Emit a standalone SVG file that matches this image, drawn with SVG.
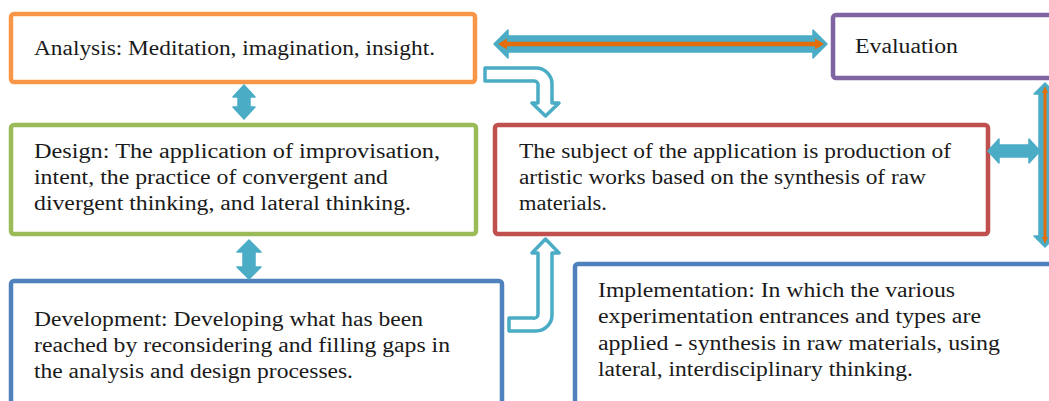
<svg xmlns="http://www.w3.org/2000/svg" width="1049" height="401" viewBox="0 0 1049 401">
<style>
.box{fill:#fff;stroke-width:4.5}
.t{font-family:"Liberation Serif","DejaVu Serif",serif;font-size:20px;fill:#1a1a1a}
.ar{fill:#4BACC6;stroke:#4BACC6;stroke-width:1.5;stroke-linejoin:round}
.hol{fill:#fff;stroke:#4BACC6;stroke-width:3.5;stroke-linejoin:round}
.or{fill:#E46C0A}
</style>
<rect width="1049" height="401" fill="#fff"/>
<g id="analysis">
<rect class="box" x="11" y="14" width="464" height="68" rx="3" stroke="#F79646"/>
<text class="t" x="34" y="55" textLength="401" lengthAdjust="spacingAndGlyphs">Analysis: Meditation, imagination, insight.</text>
</g>
<g id="evaluation">
<rect class="box" x="833" y="15" width="240" height="63" rx="3" stroke="#8064A2"/>
<text class="t" x="855" y="53" textLength="103" lengthAdjust="spacingAndGlyphs">Evaluation</text>
</g>
<g id="design">
<rect class="box" x="11" y="125" width="465" height="109" rx="3" stroke="#9BBB59"/>
<text class="t" x="34" y="158" textLength="406" lengthAdjust="spacingAndGlyphs">Design: The application of improvisation,</text>
<text class="t" x="34" y="184" textLength="354" lengthAdjust="spacingAndGlyphs">intent, the practice of convergent and</text>
<text class="t" x="34" y="210" textLength="377" lengthAdjust="spacingAndGlyphs">divergent thinking, and lateral thinking.</text>
</g>
<g id="subject">
<rect class="box" x="495" y="125" width="493" height="109" rx="3" stroke="#C0504D"/>
<text class="t" x="519" y="158" textLength="432" lengthAdjust="spacingAndGlyphs">The subject of the application is production of</text>
<text class="t" x="519" y="184" textLength="407" lengthAdjust="spacingAndGlyphs">artistic works based on the synthesis of raw</text>
<text class="t" x="519" y="210" textLength="88" lengthAdjust="spacingAndGlyphs">materials.</text>
</g>
<g id="development">
<rect class="box" x="11" y="281" width="491" height="150" rx="3" stroke="#4F81BD"/>
<text class="t" x="34" y="326" textLength="389" lengthAdjust="spacingAndGlyphs">Development: Developing what has been</text>
<text class="t" x="34" y="352" textLength="416" lengthAdjust="spacingAndGlyphs">reached by reconsidering and filling gaps in</text>
<text class="t" x="34" y="378" textLength="319" lengthAdjust="spacingAndGlyphs">the analysis and design processes.</text>
</g>
<g id="implementation">
<rect class="box" x="575" y="264" width="500" height="170" rx="3" stroke="#4F81BD"/>
<text class="t" x="598" y="297" textLength="357" lengthAdjust="spacingAndGlyphs">Implementation: In which the various</text>
<text class="t" x="598" y="323" textLength="383" lengthAdjust="spacingAndGlyphs">experimentation entrances and types are</text>
<text class="t" x="598" y="350" textLength="402" lengthAdjust="spacingAndGlyphs">applied - synthesis in raw materials, using</text>
<text class="t" x="598" y="376" textLength="315" lengthAdjust="spacingAndGlyphs">lateral, interdisciplinary thinking.</text>
</g>
<g id="connectors">
<path class="ar" d="M494,44 L508,30 L508,36 L813,36 L813,30 L827,44 L813,58 L813,52 L508,52 L508,58 Z"/>
<line x1="503" y1="44" x2="819" y2="44" stroke="#E46C0A" stroke-width="4.5"/>
<path class="or" d="M498,44 L507,38.5 L507,49.5 Z M824,44 L815,38.5 L815,49.5 Z"/>
<path class="ar" d="M1045,83 L1034,94 L1039,94 L1039,236 L1034,236 L1045,247 L1056,236 L1051,236 L1051,94 L1056,94 Z"/>
<line x1="1045" y1="90" x2="1045" y2="240" stroke="#E46C0A" stroke-width="3"/>
<path class="or" d="M1045,86 L1042,93 L1048,93 Z M1045,244 L1042,237 L1048,237 Z"/>
<path class="ar" d="M988,151 L999,139 L999,145 L1029,145 L1029,139 L1040,151 L1029,163 L1029,157 L999,157 L999,163 Z"/>
<path class="ar" d="M244,85 L255,97 L250,97 L250,107 L255,107 L244,119 L233,107 L238,107 L238,97 L233,97 Z"/>
<path class="ar" d="M249,240 L261,252 L255,252 L255,267 L261,267 L249,279 L237,267 L243,267 L243,252 L237,252 Z"/>
<path class="hol" d="M485,68 H536 A16,16 0 0 1 552,84 V103 H559 L545.5,116 L532,103 H538 V86 A4,4 0 0 0 534,81 H485 Z"/>
<path class="hol" d="M509,318 H533 A4,4 0 0 0 538,314 V253 H532 L545.5,239 L559,253 H552 V315 A16,16 0 0 1 536,331 H509 Z"/>
</g>
</svg>
